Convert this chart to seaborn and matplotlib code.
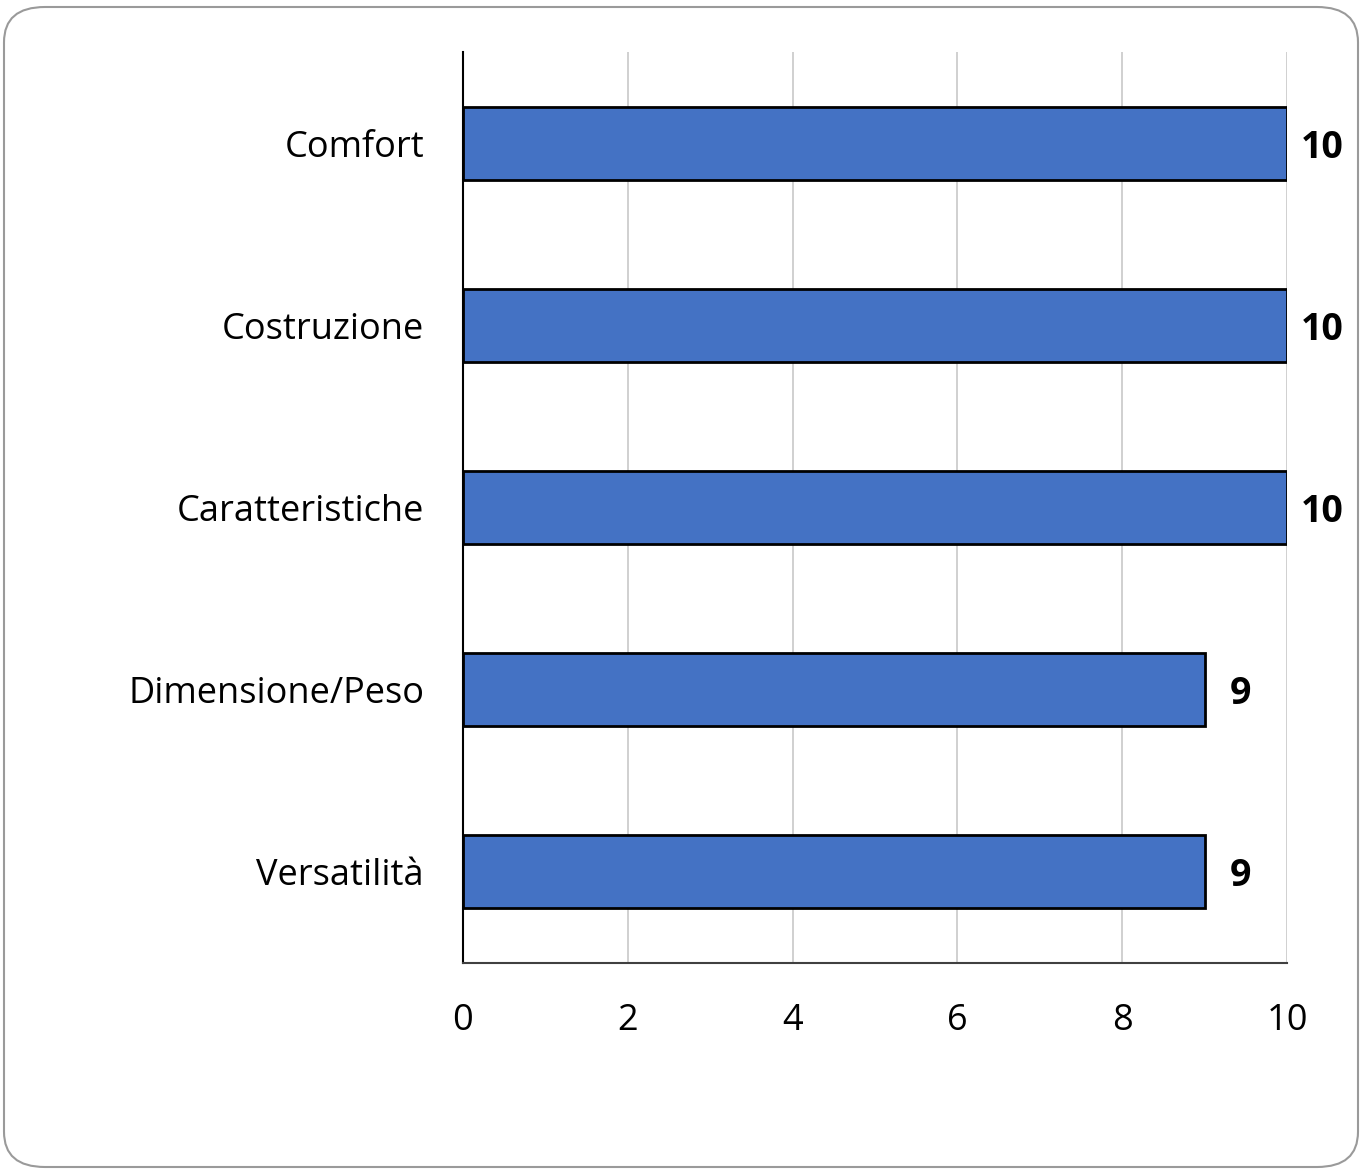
import matplotlib
matplotlib.use("Agg")
import matplotlib.pyplot as plt
import seaborn as sns
import pandas as pd
from matplotlib.patches import FancyBboxPatch

categories = ["Comfort", "Costruzione", "Caratteristiche", "Dimensione/Peso", "Versatilità"]
values = [10, 10, 10, 9, 9]
xticks = [0, 2, 4, 6, 8, 10]

df = pd.DataFrame({"cat": categories, "val": values})

sns.set_style("white")
plt.rcParams["font.family"] = ["Open Sans", "DejaVu Sans"]
plt.rcParams["text.color"] = "black"
plt.rcParams["xtick.color"] = "black"
plt.rcParams["ytick.color"] = "black"

fig = plt.figure(figsize=(13.65, 11.73), dpi=100)
ax = fig.add_axes([463/1365, 1 - 963/1173, (1287-463)/1365, (963-52)/1173])

sns.barplot(data=df, x="val", y="cat", orient="h", color="#4472C4", saturation=1,
            width=0.4, edgecolor="black", linewidth=2, ax=ax)

ax.set_xlim(0, 10)
ax.set_ylim(4.5, -0.5)
ax.set_xticks(xticks)
ax.set_xticklabels([str(t) for t in xticks])
ax.xaxis.grid(True, color="#c8c8c8", linewidth=1.2)
ax.set_axisbelow(True)
ax.set_xlabel("")
ax.set_ylabel("")
for s in ["top", "right"]:
    ax.spines[s].set_visible(False)
ax.spines["left"].set_color("black")
ax.spines["left"].set_linewidth(1.5)
ax.spines["bottom"].set_color("#404040")
ax.spines["bottom"].set_linewidth(1.5)
ax.tick_params(axis="both", length=0, labelsize=26, colors="black")
ax.tick_params(axis="y", pad=28)
ax.tick_params(axis="x", pad=29)
for lbl in ax.get_yticklabels():
    lbl.set_verticalalignment("center_baseline")

# value labels just past the bar ends
for i, v in enumerate(values):
    ax.text(v + 0.43, i, str(v), va="center_baseline", ha="center",
            fontsize=27, fontweight="bold", color="black", clip_on=False)

border = FancyBboxPatch((4/1365, 6/1173), 1354/1365, 1160/1173,
                        boxstyle="round,pad=0,rounding_size=0.03",
                        transform=fig.transFigure, facecolor="none",
                        edgecolor="#9a9a9a", linewidth=1.5, clip_on=False)
fig.patches.append(border)

fig.savefig("out.png", dpi=100)
